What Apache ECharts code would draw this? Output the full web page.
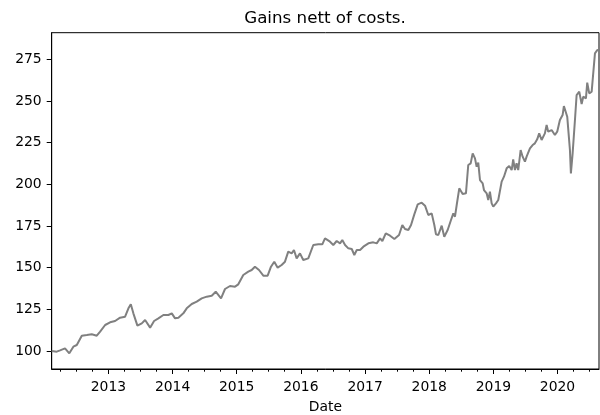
<!DOCTYPE html>
<html>
<head>
<meta charset="utf-8">
<script src="https://cdn.jsdelivr.net/npm/echarts@6/dist/echarts.min.js"></script>
<style>html,body{margin:0;padding:0;background:#fff;}#c{width:600px;height:415px;}</style>
</head>
<body>
<div id="c"></div>
<script>
// Dates as decimal years
const dateYears = [
2012.118,2012.196,2012.248,2012.325,2012.392,2012.455,2012.508,2012.586,2012.664,2012.741,
2012.819,2012.871,2012.949,2013.026,2013.104,2013.182,2013.260,2013.312,2013.349,2013.389,
2013.452,2013.520,2013.572,2013.650,2013.712,2013.779,2013.857,2013.935,2013.988,2014.039,
2014.091,2014.168,2014.221,2014.299,2014.377,2014.455,2014.533,2014.611,2014.673,2014.756,
2014.818,2014.896,2014.974,2015.025,2015.103,2015.181,2015.234,2015.285,2015.348,2015.415,
2015.483,2015.535,2015.586,2015.639,2015.701,2015.753,2015.804,2015.857,2015.893,2015.935,
2015.987,2016.038,2016.116,2016.194,2016.272,2016.334,2016.376,2016.454,2016.505,2016.558,
2016.610,2016.645,2016.688,2016.739,2016.792,2016.832,2016.870,2016.921,2016.973,2017.051,
2017.128,2017.181,2017.233,2017.269,2017.322,2017.389,2017.456,2017.529,2017.580,2017.622,
2017.674,2017.716,2017.767,2017.820,2017.882,2017.934,2017.985,2018.038,2018.079,2018.105,
2018.141,2018.194,2018.234,2018.287,2018.339,2018.375,2018.401,2018.428,2018.468,2018.521,
2018.572,2018.608,2018.646,2018.677,2018.713,2018.739,2018.764,2018.791,2018.833,2018.853,
2018.895,2018.920,2018.946,2018.973,2018.998,2019.040,2019.076,2019.102,2019.129,2019.165,
2019.207,2019.247,2019.285,2019.309,2019.336,2019.362,2019.387,2019.425,2019.456,2019.492,
2019.518,2019.570,2019.612,2019.647,2019.683,2019.714,2019.752,2019.803,2019.830,2019.855,
2019.908,2019.959,2019.995,2020.037,2020.079,2020.099,2020.130,2020.151,2020.172,2020.193,
2020.208,2020.235,2020.271,2020.297,2020.338,2020.375,2020.400,2020.442,2020.462,2020.493,
2020.531,2020.556,2020.582,2020.618,2020.645
];
const gains = [
100,99.6,100.4,101.6,98.6,102.6,103.6,109.2,109.6,110,
109.2,111.6,115.6,117.2,118,120,120.6,125.6,128,122.6,
115.2,116.6,118.6,114,118,119.6,121.6,121.6,122.6,119.6,
120,122.6,125.6,128.2,129.6,131.6,132.6,133.2,135.6,131.6,
137.2,139,138.6,140,145.6,147.6,148.6,150.6,148.6,145.2,
145.2,150.6,153.6,150,151.6,153.6,159.6,158.6,160.6,155.6,
158.6,154.6,155.6,163.6,164,164,167.6,165.6,163.6,166,
164.6,166.6,163.6,161.6,161.2,157.6,160.6,160.6,162.6,164.6,
165.2,164.6,167.6,166,170.6,169.2,167.2,169.6,175.6,173.2,
172.6,175.6,182,188,189,187.2,181.6,182.6,175.6,170,
169.6,175.2,168.6,172.6,178.6,182.6,180.6,187.6,197.6,194.2,
194.6,211.6,212.6,218.6,215.6,210.6,213,202.6,200.6,196.6,
194.6,190.6,195.6,188.6,186.6,188.6,190.6,189.6,201.6,204.6,
209.6,211,208.6,215,208.6,212.6,208.6,220.6,216.6,213.6,
216.6,221.6,223.6,224.6,227,230.6,226.6,230.6,235.6,231.6,
232.6,229.6,231.6,238.6,241.6,247,246.6,240.6,230.6,220.6,
206.6,218.6,238.6,253.6,255.6,248.2,252.6,251.6,261,254.6,
255.6,256.6,278.6,280.6,280.4
];
const yearTicks = [2013,2014,2015,2016,2017,2018,2019,2020];
const yTicks = [100,125,150,175,200,225,250,275];
const titleText = 'Gains nett of costs.';
const xName = 'Date';

function yearToTime(t){
  const y = Math.floor(t);
  const a = Date.UTC(y,0,1), b = Date.UTC(y+1,0,1);
  return a + (t - y) * (b - a);
}
const xMin = yearToTime(dateYears[0]);
const xMax = yearToTime(dateYears[dateYears.length-1]);
const majorTimes = yearTicks.map(y => Date.UTC(y,0,1));
const minorTimes = [];
for (let y = 2012; y <= 2020; y++) {
  [3,6,9].forEach(m => { const v = Date.UTC(y,m,1); if (v > xMin && v < xMax) minorTimes.push(v); });
}
const seriesData = dateYears.map((t,i) => [yearToTime(t), gains[i]]);

const FONT = 'DejaVu Sans';
const chart = echarts.init(document.getElementById('c'), null, {renderer:'canvas'});
chart.setOption({
  animation: false,
  backgroundColor: '#fff',
  title: {
    text: titleText, left: 325, top: 10.6, padding: 0, textAlign: 'center',
    textStyle: {fontFamily: FONT, fontSize: 16.7, fontWeight: 'normal', color: '#000'}
  },
  grid: {left: 51.7, right: 1, top: 32.7, bottom: 46, show: true, borderColor: '#000', borderWidth: 1,
    backgroundColor: 'transparent', containLabel: false, outerBoundsMode: 'none'},
  xAxis: [{
    type: 'value', min: xMin, max: xMax, position: 'bottom',
    name: xName, nameLocation: 'middle', nameGap: 31.5,
    nameTextStyle: {fontFamily: FONT, fontSize: 13.9, color: '#000'},
    axisLine: {show: true, lineStyle: {color: '#000', width: 1}},
    axisTick: {show: true, customValues: majorTimes, length: 5, lineStyle: {color: '#000', width: 1}},
    axisLabel: {customValues: majorTimes, margin: 11.5, fontFamily: FONT, fontSize: 13.9, color: '#000',
      formatter: v => String(new Date(v).getUTCFullYear())},
    splitLine: {show: false}
  }, {
    type: 'value', min: xMin, max: xMax, position: 'bottom',
    axisLine: {show: false},
    axisTick: {show: true, customValues: minorTimes, length: 2.7, lineStyle: {color: '#000', width: 1}},
    axisLabel: {show: false},
    splitLine: {show: false}
  }],
  yAxis: {
    type: 'value', min: 89.2, max: 291,
    axisLine: {show: true, lineStyle: {color: '#000', width: 1}},
    axisTick: {show: true, customValues: yTicks, length: 5, lineStyle: {color: '#000', width: 1}},
    axisLabel: {customValues: yTicks, margin: 10, fontFamily: FONT, fontSize: 13.9, color: '#000'},
    splitLine: {show: false}
  },
  series: [{
    type: 'line', xAxisIndex: 0, data: seriesData, showSymbol: false, symbol: 'none',
    lineStyle: {color: '#808080', width: 2}, z: 3
  }]
});
</script>
</body>
</html>
